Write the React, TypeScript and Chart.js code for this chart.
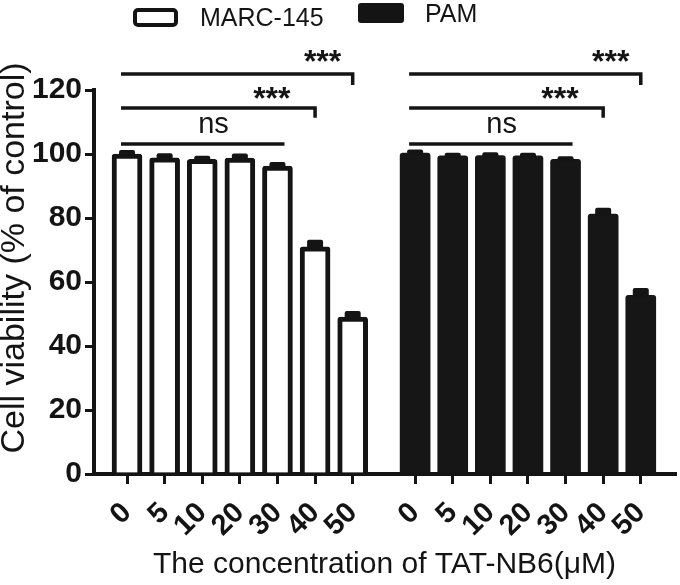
import React, { useEffect, useRef } from 'react';
import { Chart, registerables } from 'chart.js';

Chart.register(...registerables);

// ---------- data ----------
const concentrationLabels = ['0', '5', '10', '20', '30', '40', '50'];
const seriesNames = ['MARC-145', 'PAM'];
const marcValues = [100.0, 98.8, 98.3, 98.7, 96.2, 71.0, 49.0];
const marcErrors = [0.6, 0.8, 0.5, 0.8, 0.7, 1.6, 1.3];
const pamValues = [100.3, 99.4, 99.5, 99.4, 98.3, 81.2, 55.8];
const pamErrors = [0.5, 0.4, 0.4, 0.4, 0.4, 1.4, 1.7];
const yTickValues = [0, 20, 40, 60, 80, 100, 120];

// significance brackets: control (index 0) compared with index `end`
const bracketEnds = [4, 5, 6];
const bracketLevels = [103.1, 114.4, 125.0];
const bracketDropTo = [null, 111.3, 121.6];
const bracketLabels = ['ns', '***', '***'];
const bracketLabelLevels = [106.6, 114.2, 125.7];

const xTitle = 'The concentration of TAT-NB6(μM)';
const yTitle = 'Cell viability (% of control)';

// ---------- layout (not data) ----------
const GROUP_START = [0, 7.66];
const LABEL_AT = [2.3, 3.85, 5.2];
const FONT = '"Liberation Sans", Arial, Helvetica, sans-serif';
const INK = '#141414';

const groupValues = [marcValues, pamValues];
const groupErrors = [marcErrors, pamErrors];
const tickPositions: number[] = [];
const tickTexts: string[] = [];
GROUP_START.forEach((g) => {
  concentrationLabels.forEach((lab, i) => {
    tickPositions.push(g + i);
    tickTexts.push(lab);
  });
});

const annotationPlugin = {
  id: 'prismAnnotations',
  afterDatasetsDraw(chart: any) {
    const ctx = chart.ctx;
    const ys = chart.scales.y;
    ctx.save();
    ctx.fillStyle = INK;
    groupValues.forEach((vals, d) => {
      const meta = chart.getDatasetMeta(d);
      vals.forEach((v, i) => {
        const el = meta.data[i];
        if (!el) return;
        const x = el.x;
        const yv = ys.getPixelForValue(v);
        const yt = ys.getPixelForValue(v + groupErrors[d][i]) - 2;
        ctx.beginPath();
        ctx.roundRect(x - 8, yt, 16, yv - yt + 2, 2);
        ctx.fill();
      });
    });
    ctx.restore();
  },
  afterDraw(chart: any) {
    const ctx = chart.ctx;
    const xs = chart.scales.x;
    const ys = chart.scales.y;
    ctx.save();
    // brackets
    ctx.strokeStyle = INK;
    ctx.fillStyle = INK;
    ctx.lineWidth = 3.5;
    ctx.lineJoin = 'miter';
    ctx.lineCap = 'butt';
    GROUP_START.forEach((g) => {
      bracketEnds.forEach((end, k) => {
        const drop = bracketDropTo[k];
        const x1 = xs.getPixelForValue(g) - 6;
        const x2 = xs.getPixelForValue(g + end) + (drop == null ? 7 : 0);
        const y = ys.getPixelForValue(bracketLevels[k]);
        ctx.beginPath();
        ctx.moveTo(x1, y);
        ctx.lineTo(x2, y);
        if (drop != null) ctx.lineTo(x2, ys.getPixelForValue(drop));
        ctx.stroke();
        const isStars = bracketLabels[k] !== 'ns';
        ctx.font = isStars ? `bold 32px ${FONT}` : `29px ${FONT}`;
        ctx.textAlign = 'center';
        ctx.textBaseline = 'alphabetic';
        ctx.fillText(
          bracketLabels[k],
          xs.getPixelForValue(g + LABEL_AT[k]),
          ys.getPixelForValue(bracketLabelLevels[k])
        );
      });
    });
    // y axis title
    ctx.save();
    ctx.translate(15, 258);
    ctx.rotate(-Math.PI / 2);
    ctx.font = `34px ${FONT}`;
    ctx.textAlign = 'center';
    ctx.textBaseline = 'middle';
    ctx.fillText(yTitle, 0, 0);
    ctx.restore();
    // legend
    const ds = chart.data.datasets;
    ctx.lineWidth = 4;
    ctx.beginPath();
    ctx.roundRect(135, 10, 41, 15, 3);
    ctx.fillStyle = '#ffffff';
    ctx.fill();
    ctx.stroke();
    ctx.fillStyle = INK;
    ctx.beginPath();
    ctx.roundRect(358, 3, 46, 20, 3);
    ctx.fill();
    ctx.font = `25px ${FONT}`;
    ctx.textAlign = 'left';
    ctx.textBaseline = 'middle';
    ctx.fillText(ds[0].label, 200, 19);
    ctx.fillText(ds[1].label, 425, 15);
    ctx.restore();
  },
};

export default function App() {
  const canvasRef = useRef<HTMLCanvasElement | null>(null);

  useEffect(() => {
    const canvas = canvasRef.current;
    if (!canvas) return;
    const chart = new Chart(canvas, {
      type: 'bar',
      data: {
        datasets: [
          {
            label: seriesNames[0],
            data: marcValues.map((v, i) => ({ x: GROUP_START[0] + i, y: v })),
            backgroundColor: '#ffffff',
            borderColor: INK,
            borderWidth: 5,
            borderSkipped: 'start',
            borderRadius: { topLeft: 3, topRight: 3, bottomLeft: 0, bottomRight: 0 },
            barThickness: 30,
            grouped: false,
          },
          {
            label: seriesNames[1],
            data: pamValues.map((v, i) => ({ x: GROUP_START[1] + i, y: v })),
            backgroundColor: '#161616',
            borderColor: '#161616',
            borderWidth: 0,
            borderRadius: { topLeft: 3, topRight: 3, bottomLeft: 0, bottomRight: 0 },
            barThickness: 30,
            grouped: false,
          },
        ] as any,
      },
      options: {
        animation: false,
        responsive: false,
        maintainAspectRatio: false,
        devicePixelRatio: 1,
        layout: { padding: { top: 90, right: 5, bottom: 0, left: 0 } },
        plugins: {
          legend: { display: false },
          tooltip: { enabled: false },
          title: { display: false },
        },
        scales: {
          x: {
            type: 'linear',
            min: -0.878,
            max: 14.57,
            offset: false,
            afterBuildTicks: (s: any) => {
              s.ticks = tickPositions.map((v) => ({ value: v }));
            },
            afterFit: (s: any) => {
              s.height = 111;
            },
            ticks: {
              autoSkip: false,
              minRotation: 45,
              maxRotation: 45,
              padding: 12,
              color: INK,
              font: { family: FONT, size: 29, weight: 'bold' },
              callback: (_v: any, i: number) => tickTexts[i],
            },
            grid: {
              offset: false,
              drawOnChartArea: false,
              drawTicks: true,
              tickLength: 10,
              lineWidth: 3,
              color: INK,
            },
            border: { display: true, width: 4, color: INK },
            title: {
              display: true,
              text: xTitle,
              color: INK,
              font: { family: FONT, size: 30, weight: 'normal' },
              padding: { top: 0, bottom: 2 },
            },
          },
          y: {
            type: 'linear',
            min: 0,
            max: 120,
            afterBuildTicks: (s: any) => {
              s.ticks = yTickValues.map((v) => ({ value: v }));
            },
            afterFit: (s: any) => {
              s.width = 94;
            },
            ticks: {
              padding: 3,
              color: INK,
              font: { family: FONT, size: 30, weight: 'bold' },
            },
            grid: {
              drawOnChartArea: false,
              drawTicks: true,
              tickLength: 9,
              lineWidth: 3,
              color: INK,
            },
            border: { display: true, width: 4, color: INK },
          },
        },
      } as any,
      plugins: [annotationPlugin],
    });
    return () => chart.destroy();
  }, []);

  return (
    <div style={{ position: 'fixed', left: 0, top: 0, width: 680, height: 585, background: '#fff' }}>
      <canvas ref={canvasRef} width={680} height={585} style={{ display: 'block', width: 680, height: 585 }} />
    </div>
  );
}
